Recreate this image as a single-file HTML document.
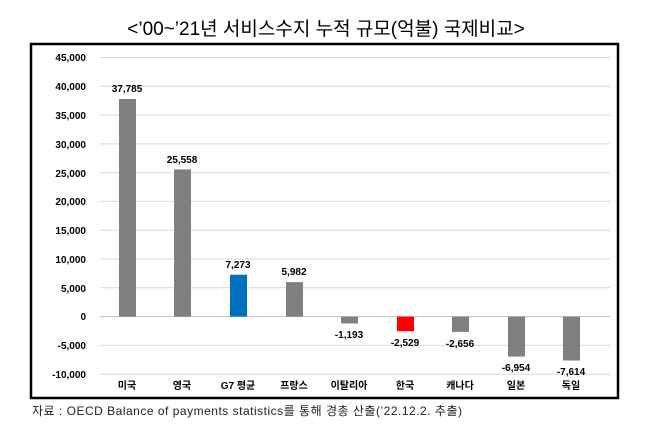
<!DOCTYPE html><html><head><meta charset="utf-8"><style>
body{margin:0;width:653px;height:429px;background:#fff;overflow:hidden;font-family:"Liberation Sans","Noto Sans CJK KR",sans-serif}
</style></head><body>
<svg width="653" height="429" xmlns="http://www.w3.org/2000/svg" font-family="Liberation Sans, Noto Sans CJK KR, sans-serif">
<text x="326" y="35" font-size="19" text-anchor="middle" fill="#000">&lt;’00~’21년 서비스수지 누적 규모(억불) 국제비교&gt;</text>
<rect x="31" y="44" width="587" height="354" fill="none" stroke="#000" stroke-width="2.5"/>
<g stroke="#d9d9d9" stroke-width="1">
<line x1="100" x2="610" y1="57.5" y2="57.5"/><line x1="100" x2="610" y1="86.3" y2="86.3"/><line x1="100" x2="610" y1="115.1" y2="115.1"/><line x1="100" x2="610" y1="143.9" y2="143.9"/><line x1="100" x2="610" y1="172.7" y2="172.7"/><line x1="100" x2="610" y1="201.4" y2="201.4"/><line x1="100" x2="610" y1="230.2" y2="230.2"/><line x1="100" x2="610" y1="259" y2="259"/><line x1="100" x2="610" y1="287.8" y2="287.8"/><line x1="100" x2="610" y1="345.4" y2="345.4"/><line x1="100" x2="610" y1="374.2" y2="374.2"/>
</g>
<line x1="100" x2="610" y1="316.6" y2="316.6" stroke="#bfbfbf"/>
<g font-size="10" font-weight="bold" text-anchor="end" fill="#000">
<text x="86" y="61">45,000</text><text x="86" y="90">40,000</text><text x="86" y="119">35,000</text><text x="86" y="148">30,000</text><text x="86" y="177">25,000</text><text x="86" y="205">20,000</text><text x="86" y="234">15,000</text><text x="86" y="263">10,000</text><text x="86" y="292">5,000</text><text x="86" y="320">0</text><text x="86" y="349">-5,000</text><text x="86" y="378">-10,000</text>
</g>
<g fill="#808080">
<rect x="119" y="99" width="17" height="217.6"/>
<rect x="174" y="169.4" width="17" height="147.2"/>
<rect x="230" y="274.7" width="17" height="41.9" fill="#0070c0"/>
<rect x="286" y="282.1" width="17" height="34.5"/>
<rect x="341" y="316.6" width="17" height="6.9"/>
<rect x="397" y="316.6" width="17" height="14.6" fill="#ff0000"/>
<rect x="452" y="316.6" width="17" height="15.3"/>
<rect x="508" y="316.6" width="17" height="40"/>
<rect x="563" y="316.6" width="17" height="43.9"/>
</g>
<g font-size="10" font-weight="bold" text-anchor="middle" fill="#000">
<text x="127" y="92">37,785</text><text x="182" y="163">25,558</text><text x="238" y="268">7,273</text><text x="294" y="275">5,982</text>
<text x="349" y="338">-1,193</text><text x="405" y="346">-2,529</text><text x="460" y="347">-2,656</text><text x="516" y="371">-6,954</text><text x="571" y="375">-7,614</text>
</g>
<g font-size="10" font-weight="bold" text-anchor="middle" fill="#000">
<text x="127" y="389">미국</text><text x="182" y="389">영국</text><text x="238" y="389">G7 평균</text><text x="294" y="389">프랑스</text><text x="349" y="389">이탈리아</text><text x="405" y="389">한국</text><text x="460" y="389">캐나다</text><text x="516" y="389">일본</text><text x="571" y="389">독일</text>
</g>
<text x="32" y="415" font-size="12" fill="#222" textLength="430">자료 : OECD Balance of payments statistics를 통해 경총 산출(’22.12.2. 추출)</text>
</svg>
</body></html>
